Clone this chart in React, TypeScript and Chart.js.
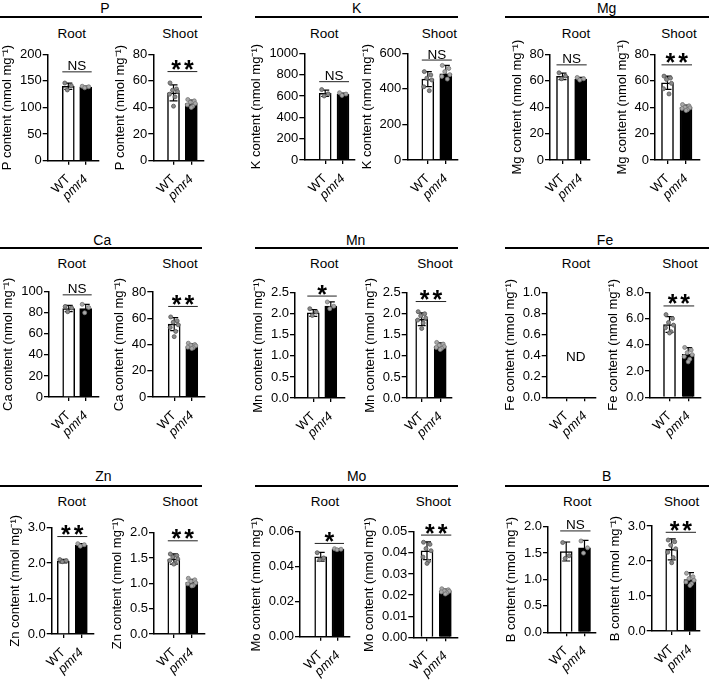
import React, { useEffect, useRef } from 'react';
import { Chart, registerables } from 'chart.js';
Chart.register(...registerables);

const FONT = '"Liberation Sans", Arial, Helvetica, sans-serif';
const GROUPS = ['WT', 'pmr4'];

// ---- data: [WT, pmr4] means, SD, replicate points, y tick labels, significance ----
const P_ROOT_MEAN = [140, 138];
const P_ROOT_SD = [6, 2];
const P_ROOT_REPS = [[146, 141, 133], [140, 139, 137]];
const P_ROOT_TICKS = ['0', '50', '100', '150', '200'];
const P_ROOT_SIG: [string, number] = ['NS', 167];

const P_SHOOT_MEAN = [51, 43];
const P_SHOOT_SD = [6, 2.5];
const P_SHOOT_REPS = [[58.5, 54, 53, 52, 50, 48, 41], [46, 45, 44, 43, 42, 41, 40]];
const P_SHOOT_TICKS = ['0', '20', '40', '60', '80'];
const P_SHOOT_SIG: [string, number] = ['**', 67];

const K_ROOT_MEAN = [625, 615];
const K_ROOT_SD = [30, 12];
const K_ROOT_REPS = [[660, 620, 600], [630, 618, 605]];
const K_ROOT_TICKS = ['0', '200', '400', '600', '800', '1000'];
const K_ROOT_SIG: [string, number] = ['NS', 734];

const K_SHOOT_MEAN = [455, 484];
const K_SHOOT_SD = [42, 48];
const K_SHOOT_REPS = [[497, 478, 460, 450, 412, 390], [532, 515, 497, 480, 470, 455]];
const K_SHOOT_TICKS = ['0', '200', '400', '600'];
const K_SHOOT_SIG: [string, number] = ['NS', 562];

const MG_ROOT_MEAN = [63.3, 61.3];
const MG_ROOT_SD = [2.5, 1.2];
const MG_ROOT_REPS = [[66, 63.5, 61.5], [62.5, 61.5, 60.5]];
const MG_ROOT_TICKS = ['0', '20', '40', '60', '80'];
const MG_ROOT_SIG: [string, number] = ['NS', 72];

const MG_SHOOT_MEAN = [58.5, 39.8];
const MG_SHOOT_SD = [5, 1.8];
const MG_SHOOT_REPS = [[63.5, 62, 61, 58, 54, 50], [42, 41, 40, 39.5, 39, 38, 37.5]];
const MG_SHOOT_TICKS = ['0', '20', '40', '60', '80'];
const MG_SHOOT_SIG: [string, number] = ['**', 72];

const CA_ROOT_MEAN = [84, 84];
const CA_ROOT_SD = [3, 4];
const CA_ROOT_REPS = [[86, 84.5, 81], [88, 85, 80]];
const CA_ROOT_TICKS = ['0', '20', '40', '60', '80', '100'];
const CA_ROOT_SIG: [string, number] = ['NS', 97];

const CA_SHOOT_MEAN = [55.5, 38.5];
const CA_SHOOT_SD = [5, 2];
const CA_SHOOT_REPS = [[61, 58, 57, 55, 53, 50, 46], [41, 40, 39.5, 39, 38, 37.5, 37]];
const CA_SHOOT_TICKS = ['0', '20', '40', '60', '80'];
const CA_SHOOT_SIG: [string, number] = ['**', 69];

const MN_ROOT_MEAN = [2.02, 2.18];
const MN_ROOT_SD = [0.08, 0.1];
const MN_ROOT_REPS = [[2.12, 2.04, 1.96], [2.28, 2.18, 2.12]];
const MN_ROOT_TICKS = ['0.0', '0.5', '1.0', '1.5', '2.0', '2.5'];
const MN_ROOT_SIG: [string, number] = ['*', 2.42];

const MN_SHOOT_MEAN = [1.87, 1.23];
const MN_SHOOT_SD = [0.15, 0.08];
const MN_SHOOT_REPS = [[2.05, 2.0, 1.95, 1.9, 1.85, 1.78, 1.65], [1.32, 1.28, 1.25, 1.22, 1.2, 1.18, 1.15]];
const MN_SHOOT_TICKS = ['0.0', '0.5', '1.0', '1.5', '2.0', '2.5'];
const MN_SHOOT_SIG: [string, number] = ['**', 2.29];

const FE_ROOT_MEAN: number[] = [];
const FE_ROOT_SD: number[] = [];
const FE_ROOT_REPS: number[][] = [[], []];
const FE_ROOT_TICKS = ['0.0', '0.2', '0.4', '0.6', '0.8', '1.0'];
const FE_ROOT_NOTE: [string, number] = ['ND', 0.38];

const FE_SHOOT_MEAN = [5.55, 3.28];
const FE_SHOOT_SD = [0.6, 0.5];
const FE_SHOOT_REPS = [[6.3, 6.0, 5.7, 5.5, 5.3, 5.0, 4.9], [3.8, 3.6, 3.4, 3.25, 3.1, 2.9, 2.7]];
const FE_SHOOT_TICKS = ['0.0', '2.0', '4.0', '6.0', '8.0'];
const FE_SHOOT_SIG: [string, number] = ['**', 6.96];

const ZN_ROOT_MEAN = [2.06, 2.5];
const ZN_ROOT_SD = [0.05, 0.05];
const ZN_ROOT_REPS = [[2.1, 2.07, 2.04], [2.55, 2.52, 2.48]];
const ZN_ROOT_TICKS = ['0.0', '1.0', '2.0', '3.0'];
const ZN_ROOT_SIG: [string, number] = ['**', 2.75];

const ZN_SHOOT_MEAN = [1.48, 1.02];
const ZN_SHOOT_SD = [0.1, 0.06];
const ZN_SHOOT_REPS = [[1.58, 1.55, 1.52, 1.48, 1.45, 1.4, 1.38], [1.1, 1.07, 1.04, 1.01, 0.99, 0.96, 0.95]];
const ZN_SHOOT_TICKS = ['0.0', '0.5', '1.0', '1.5', '2.0'];
const ZN_SHOOT_SIG: [string, number] = ['**', 1.84];

const MO_ROOT_MEAN = [0.0457, 0.05];
const MO_ROOT_SD = [0.0025, 0.0004];
const MO_ROOT_REPS = [[0.048, 0.045, 0.044], [0.0503, 0.05, 0.0497]];
const MO_ROOT_TICKS = ['0.00', '0.02', '0.04', '0.06'];
const MO_ROOT_SIG: [string, number] = ['*', 0.0533];

const MO_SHOOT_MEAN = [0.041, 0.022];
const MO_SHOOT_SD = [0.0042, 0.0008];
const MO_SHOOT_REPS = [[0.045, 0.044, 0.042, 0.041, 0.038, 0.036, 0.035], [0.023, 0.0225, 0.022, 0.0218, 0.0215, 0.021, 0.0205]];
const MO_SHOOT_TICKS = ['0.00', '0.01', '0.02', '0.03', '0.04', '0.05'];
const MO_SHOOT_SIG: [string, number] = ['**', 0.0484];

const B_ROOT_MEAN = [1.53, 1.6];
const B_ROOT_SD = [0.18, 0.14];
const B_ROOT_REPS = [[1.7, 1.45, 1.4], [1.73, 1.6, 1.5]];
const B_ROOT_TICKS = ['0.0', '0.5', '1.0', '1.5', '2.0'];
const B_ROOT_SIG: [string, number] = ['NS', 1.92];

const B_SHOOT_MEAN = [2.33, 1.47];
const B_SHOOT_SD = [0.3, 0.2];
const B_SHOOT_REPS = [[2.6, 2.55, 2.45, 2.35, 2.25, 2.1, 1.95], [1.65, 1.55, 1.5, 1.45, 1.4, 1.35, 1.3]];
const B_SHOOT_TICKS = ['0.0', '1.0', '2.0', '3.0'];
const B_SHOOT_SIG: [string, number] = ['**', 2.82];

// ---- layout (page pixels): axis box L/R/T/B and bar centres c1/c2 ----
type Box = { L: number; R: number; T: number; B: number; c1: number; c2: number };
type PanelCfg = {
  el: string; mean: number[]; sd: number[]; reps: number[][]; ticks: string[];
  sig?: [string, number]; note?: [string, number]; box: Box;
};

const PANELS: PanelCfg[] = [
  { el: 'P', mean: P_ROOT_MEAN, sd: P_ROOT_SD, reps: P_ROOT_REPS, ticks: P_ROOT_TICKS, sig: P_ROOT_SIG, box: { L: 47.7, R: 99, T: 54.3, B: 160.7, c1: 68.3, c2: 85.7 } },
  { el: 'P', mean: P_SHOOT_MEAN, sd: P_SHOOT_SD, reps: P_SHOOT_REPS, ticks: P_SHOOT_TICKS, sig: P_SHOOT_SIG, box: { L: 153.3, R: 204, T: 54.3, B: 160.7, c1: 173.5, c2: 191.3 } },
  { el: 'K', mean: K_ROOT_MEAN, sd: K_ROOT_SD, reps: K_ROOT_REPS, ticks: K_ROOT_TICKS, sig: K_ROOT_SIG, box: { L: 304.3, R: 355, T: 53.3, B: 160, c1: 325.2, c2: 343 } },
  { el: 'K', mean: K_SHOOT_MEAN, sd: K_SHOOT_SD, reps: K_SHOOT_REPS, ticks: K_SHOOT_TICKS, sig: K_SHOOT_SIG, box: { L: 407.3, R: 457.7, T: 53.3, B: 160, c1: 427.8, c2: 445.8 } },
  { el: 'Mg', mean: MG_ROOT_MEAN, sd: MG_ROOT_SD, reps: MG_ROOT_REPS, ticks: MG_ROOT_TICKS, sig: MG_ROOT_SIG, box: { L: 550, R: 590, T: 54.3, B: 160, c1: 562.5, c2: 580.7 } },
  { el: 'Mg', mean: MG_SHOOT_MEAN, sd: MG_SHOOT_SD, reps: MG_SHOOT_REPS, ticks: MG_SHOOT_TICKS, sig: MG_SHOOT_SIG, box: { L: 655, R: 700, T: 54.3, B: 160, c1: 667.5, c2: 686 } },

  { el: 'Ca', mean: CA_ROOT_MEAN, sd: CA_ROOT_SD, reps: CA_ROOT_REPS, ticks: CA_ROOT_TICKS, sig: CA_ROOT_SIG, box: { L: 49, R: 99, T: 291.7, B: 397, c1: 68.7, c2: 85.7 } },
  { el: 'Ca', mean: CA_SHOOT_MEAN, sd: CA_SHOOT_SD, reps: CA_SHOOT_REPS, ticks: CA_SHOOT_TICKS, sig: CA_SHOOT_SIG, box: { L: 152.3, R: 204.3, T: 292, B: 397, c1: 174.2, c2: 191.8 } },
  { el: 'Mn', mean: MN_ROOT_MEAN, sd: MN_ROOT_SD, reps: MN_ROOT_REPS, ticks: MN_ROOT_TICKS, sig: MN_ROOT_SIG, box: { L: 295, R: 345, T: 292.7, B: 398, c1: 313.3, c2: 330.8 } },
  { el: 'Mn', mean: MN_SHOOT_MEAN, sd: MN_SHOOT_SD, reps: MN_SHOOT_REPS, ticks: MN_SHOOT_TICKS, sig: MN_SHOOT_SIG, box: { L: 406.7, R: 452, T: 292.7, B: 398, c1: 421.7, c2: 440.2 } },
  { el: 'Fe', mean: FE_ROOT_MEAN, sd: FE_ROOT_SD, reps: FE_ROOT_REPS, ticks: FE_ROOT_TICKS, note: FE_ROOT_NOTE, box: { L: 546.7, R: 596, T: 292.3, B: 397.3, c1: 566.7, c2: 585 } },
  { el: 'Fe', mean: FE_SHOOT_MEAN, sd: FE_SHOOT_SD, reps: FE_SHOOT_REPS, ticks: FE_SHOOT_TICKS, sig: FE_SHOOT_SIG, box: { L: 650, R: 700.7, T: 292.3, B: 397.3, c1: 669.5, c2: 688.2 } },

  { el: 'Zn', mean: ZN_ROOT_MEAN, sd: ZN_ROOT_SD, reps: ZN_ROOT_REPS, ticks: ZN_ROOT_TICKS, sig: ZN_ROOT_SIG, box: { L: 51.7, R: 93.3, T: 527.7, B: 634, c1: 63.3, c2: 81.3 } },
  { el: 'Zn', mean: ZN_SHOOT_MEAN, sd: ZN_SHOOT_SD, reps: ZN_SHOOT_REPS, ticks: ZN_SHOOT_TICKS, sig: ZN_SHOOT_SIG, box: { L: 154, R: 205, T: 532.7, B: 634, c1: 173.8, c2: 191.8 } },
  { el: 'Mo', mean: MO_ROOT_MEAN, sd: MO_ROOT_SD, reps: MO_ROOT_REPS, ticks: MO_ROOT_TICKS, sig: MO_ROOT_SIG, box: { L: 300, R: 350, T: 531.7, B: 636.7, c1: 320.7, c2: 338 } },
  { el: 'Mo', mean: MO_SHOOT_MEAN, sd: MO_SHOOT_SD, reps: MO_SHOOT_REPS, ticks: MO_SHOOT_TICKS, sig: MO_SHOOT_SIG, box: { L: 413.3, R: 457.7, T: 531.7, B: 637.3, c1: 427, c2: 445.3 } },
  { el: 'B', mean: B_ROOT_MEAN, sd: B_ROOT_SD, reps: B_ROOT_REPS, ticks: B_ROOT_TICKS, sig: B_ROOT_SIG, box: { L: 548, R: 596, T: 526.7, B: 632.3, c1: 566.2, c2: 584.5 } },
  { el: 'B', mean: B_SHOOT_MEAN, sd: B_SHOOT_SD, reps: B_SHOOT_REPS, ticks: B_SHOOT_TICKS, sig: B_SHOOT_SIG, box: { L: 651.7, R: 700, T: 526, B: 631, c1: 671.7, c2: 690 } },
];

const HEADERS = [
  { text: 'P', x: 105, y: 7.5, x0: 0, x1: 202, ly: 17 },
  { text: 'K', x: 356.7, y: 7.5, x0: 255, x1: 457.7, ly: 17 },
  { text: 'Mg', x: 606.7, y: 7.5, x0: 505, x1: 709, ly: 17 },
  { text: 'Ca', x: 102.3, y: 239.7, x0: 0, x1: 202, ly: 248.3 },
  { text: 'Mn', x: 355.7, y: 239.7, x0: 255, x1: 457.7, ly: 248.3 },
  { text: 'Fe', x: 605, y: 239.7, x0: 505, x1: 709, ly: 248.3 },
  { text: 'Zn', x: 103.3, y: 475.5, x0: 0, x1: 202, ly: 485.7 },
  { text: 'Mo', x: 356.7, y: 475.5, x0: 255, x1: 457.7, ly: 485.7 },
  { text: 'B', x: 606.7, y: 475.5, x0: 505, x1: 709, ly: 485.7 },
];

const SUBTITLES = [
  { text: 'Root', x: 71.7, y: 33.8 }, { text: 'Shoot', x: 180, y: 33.8 },
  { text: 'Root', x: 324.3, y: 33.8 }, { text: 'Shoot', x: 439.3, y: 33.8 },
  { text: 'Root', x: 576, y: 33.8 }, { text: 'Shoot', x: 679, y: 33.8 },
  { text: 'Root', x: 71.7, y: 264 }, { text: 'Shoot', x: 180, y: 264 },
  { text: 'Root', x: 324.3, y: 264 }, { text: 'Shoot', x: 435, y: 264 },
  { text: 'Root', x: 576, y: 264 }, { text: 'Shoot', x: 680, y: 264 },
  { text: 'Root', x: 71.7, y: 501.7 }, { text: 'Shoot', x: 180, y: 501.7 },
  { text: 'Root', x: 325, y: 501.7 }, { text: 'Shoot', x: 433.3, y: 501.7 },
  { text: 'Root', x: 577.3, y: 501.7 }, { text: 'Shoot', x: 681.7, y: 501.7 },
];

const JITTER = [-3.5, 3, -1, 4, -4, 1.5, 0];
const BAR_W = 12;
const TICK_LEN = 5;
const TICK_PAD = 1;
const TITLE_GAP = 12.5;

let measureCtx: CanvasRenderingContext2D | null = null;
function labelWidth(labels: string[]) {
  if (!measureCtx) measureCtx = document.createElement('canvas').getContext('2d');
  const m = measureCtx as CanvasRenderingContext2D;
  m.font = `13px ${FONT}`;
  return Math.max(...labels.map((t) => m.measureText(t).width));
}

function overlayPlugin(p: PanelCfg) {
  return {
    id: 'overlay',
    afterDatasetsDraw(chart: any) {
      const { ctx } = chart;
      const xs = chart.scales.x;
      const ys = chart.scales.y;
      ctx.save();
      // error bars
      p.mean.forEach((m, i) => {
        const cx = xs.getPixelForValue(i + 1);
        const yt = ys.getPixelForValue(m + p.sd[i]);
        const yb = ys.getPixelForValue(m - p.sd[i]);
        ctx.strokeStyle = '#000';
        ctx.lineWidth = 1.2;
        ctx.beginPath();
        ctx.moveTo(cx, yb); ctx.lineTo(cx, yt);
        ctx.moveTo(cx - 4, yt); ctx.lineTo(cx + 4, yt);
        ctx.moveTo(cx - 4, yb); ctx.lineTo(cx + 4, yb);
        ctx.stroke();
      });
      // replicate points
      p.reps.forEach((arr, i) => {
        const cx = xs.getPixelForValue(i + 1);
        arr.forEach((v, j) => {
          const px = cx + JITTER[j % JITTER.length];
          const py = ys.getPixelForValue(v);
          ctx.beginPath();
          ctx.arc(px, py, 2, 0, Math.PI * 2);
          ctx.fillStyle = i === 0 ? '#8a8a8a' : '#a8a8a8';
          ctx.fill();
          ctx.lineWidth = 0.8;
          ctx.strokeStyle = i === 0 ? '#555' : '#777';
          ctx.stroke();
        });
      });
      const x1 = xs.getPixelForValue(1);
      const x2 = xs.getPixelForValue(2);
      if (p.sig) {
        const [label, val] = p.sig;
        const yl = ys.getPixelForValue(val);
        ctx.strokeStyle = '#222';
        ctx.lineWidth = 1;
        ctx.beginPath();
        ctx.moveTo(x1 - BAR_W / 2, yl);
        ctx.lineTo(x2 + BAR_W / 2, yl);
        ctx.stroke();
        ctx.fillStyle = '#000';
        ctx.textAlign = 'center';
        ctx.textBaseline = 'alphabetic';
        const mid = (x1 + x2) / 2;
        if (label === 'NS') {
          ctx.font = `13.5px ${FONT}`;
          ctx.fillText(label, mid, yl - 1.5);
        } else {
          ctx.font = `bold 25px ${FONT}`;
          const mt = ctx.measureText('*');
          const inkMid = (mt.actualBoundingBoxAscent - mt.actualBoundingBoxDescent) / 2;
          const n = label.length;
          for (let k = 0; k < n; k++) {
            const cx = mid + (k - (n - 1) / 2) * 12.7;
            ctx.fillText('*', cx, yl - 6.5 + inkMid);
          }
        }
      }
      if (p.note) {
        const [label, val] = p.note;
        ctx.fillStyle = '#000';
        ctx.font = `13.5px ${FONT}`;
        ctx.textAlign = 'center';
        ctx.textBaseline = 'middle';
        ctx.fillText(label, (x1 + x2) / 2, ys.getPixelForValue(val));
      }
      ctx.restore();
    },
  };
}

function Panel({ p }: { p: PanelCfg }) {
  const ref = useRef<HTMLCanvasElement>(null);
  const { L, R, T, B, c1, c2 } = p.box;
  const tx = L - TICK_LEN - TICK_PAD - labelWidth(p.ticks) - TITLE_GAP;
  const cl = Math.floor(tx - 9);
  const ct = Math.floor(T - 22);
  const cw = Math.ceil(R + 16) - cl;
  const ch = Math.ceil(B + 55) - ct;

  useEffect(() => {
    const unit = c2 - c1;
    const xmin = 1 - (c1 - L) / unit;
    const xmax = 2 + (R - c2) / unit;
    const tickVals = p.ticks.map(Number);
    const axisGrid = { display: true, drawOnChartArea: false, drawTicks: true, tickLength: TICK_LEN, color: '#000', lineWidth: 1.3, offset: false };
    const axisBorder = { display: true, color: '#000', width: 1.5 };
    const chart = new Chart(ref.current as HTMLCanvasElement, {
      type: 'bar',
      data: {
        datasets: [{
          data: p.mean.map((v, i) => ({ x: i + 1, y: v })),
          backgroundColor: ['#ffffff', '#000000'],
          borderColor: '#000',
          borderWidth: 1.5,
          barThickness: BAR_W,
        }] as any,
      },
      options: {
        animation: false,
        responsive: false,
        devicePixelRatio: 1,
        events: [],
        layout: { padding: { left: 0, top: T - ct, right: cl + cw - R, bottom: 0 } },
        plugins: { legend: { display: false }, tooltip: { enabled: false } },
        scales: {
          x: {
            type: 'linear', min: xmin, max: xmax, offset: false,
            afterBuildTicks: (s: any) => { s.ticks = [{ value: 1 }, { value: 2 }]; },
            afterFit: (s: any) => { s.height = ct + ch - B; },
            ticks: {
              autoSkip: false, minRotation: 45, maxRotation: 45, padding: 7, color: '#000',
              callback: (v: any) => GROUPS[Math.round(Number(v)) - 1],
              font: (c: any) => ({ family: FONT, size: 13, style: c.index === 1 ? 'italic' : 'normal' }),
            },
            grid: { ...axisGrid, tickLength: 4 },
            border: axisBorder,
          },
          y: {
            type: 'linear', min: 0, max: tickVals[tickVals.length - 1],
            afterBuildTicks: (s: any) => { s.ticks = tickVals.map((v) => ({ value: v })); },
            afterFit: (s: any) => { s.width = L - cl; },
            ticks: {
              autoSkip: false, padding: TICK_PAD, color: '#000', font: { family: FONT, size: 13 },
              callback: (_v: any, i: number) => p.ticks[i],
            },
            grid: axisGrid,
            border: axisBorder,
            title: {
              display: true,
              text: `${p.el} content (nmol mg\u207B\u00B9)`,
              color: '#000',
              font: { family: FONT, size: 13 },
              padding: { top: tx - 7.8 - cl, bottom: 0 },
            },
          },
        },
      } as any,
      plugins: [overlayPlugin(p)],
    });
    return () => chart.destroy();
  }, []);

  return (
    <canvas
      ref={ref}
      width={cw}
      height={ch}
      style={{ position: 'absolute', left: cl, top: ct, width: cw, height: ch }}
    />
  );
}

export default function App() {
  return (
    <div style={{ position: 'absolute', left: 0, top: 0, width: 709, height: 682, background: '#fff', overflow: 'hidden', fontFamily: FONT, color: '#000' }}>
      {HEADERS.map((h, i) => (
        <React.Fragment key={'h' + i}>
          <div style={{ position: 'absolute', left: h.x, top: h.y, transform: 'translate(-50%,-50%)', fontSize: 14, lineHeight: '1', whiteSpace: 'nowrap' }}>{h.text}</div>
          <div style={{ position: 'absolute', left: h.x0, top: h.ly - 1, width: h.x1 - h.x0, height: 2, background: '#000' }} />
        </React.Fragment>
      ))}
      {SUBTITLES.map((s, i) => (
        <div key={'s' + i} style={{ position: 'absolute', left: s.x, top: s.y, transform: 'translate(-50%,-50%)', fontSize: 13.5, lineHeight: '1', whiteSpace: 'nowrap' }}>{s.text}</div>
      ))}
      {PANELS.map((p, i) => <Panel key={i} p={p} />)}
    </div>
  );
}
